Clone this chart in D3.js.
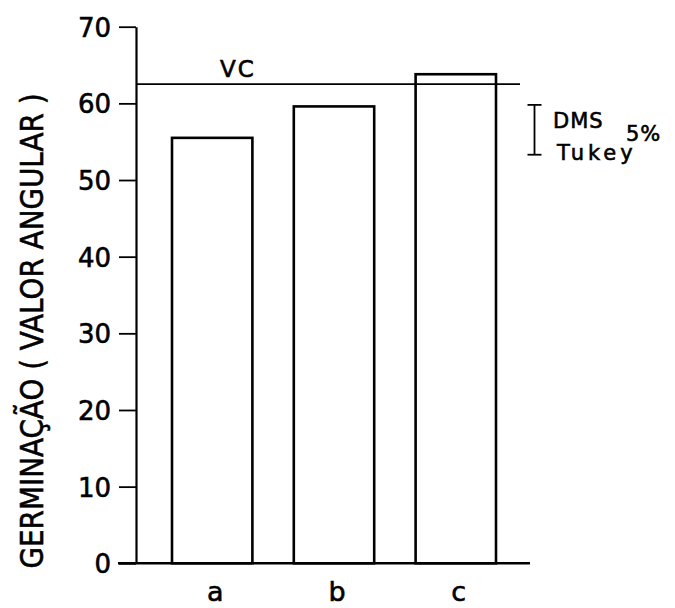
<!DOCTYPE html>
<html>
<head>
<meta charset="utf-8">
<script src="https://cdn.jsdelivr.net/npm/d3@7"></script>
<style>
  html, body { margin: 0; padding: 0; background: #fff; }
  svg { display: block; }
  text { font-family: "DejaVu Sans", sans-serif; fill: #000; stroke: #000; stroke-width: 0.6px; }
</style>
</head>
<body>
<svg id="chart" width="675" height="608"></svg>
<script>
const categories = ["a", "b", "c"];
const germinacao = [55.5, 59.6, 63.8];
const vcValue = 62.5;
const dmsRange = [53.3, 59.8];
const yTicks = [0, 10, 20, 30, 40, 50, 60, 70];
const yLabel = "GERMINAÇÃO ( VALOR ANGULAR )";

const svg = d3.select("#chart");
const W = 675, H = 608;
svg.append("rect").attr("width", W).attr("height", H).attr("fill", "#fff");

const axisX = 136;
const y = d3.scaleLinear().domain([0, 70]).range([563.3, 26.7]);
const x = d3.scaleBand().domain(categories).range([172, 496]).paddingInner(0.34).paddingOuter(0);

// Y axis
const yAxis = d3.axisLeft(y).tickValues(yTicks).tickSize(17).tickSizeOuter(0).tickPadding(8)
  .tickFormat(d3.format("d"));
const gy = svg.append("g").attr("transform", `translate(${axisX},0)`).call(yAxis);
gy.select(".domain").attr("stroke", "#000").attr("stroke-width", 2.2);
gy.selectAll(".tick line").attr("stroke", "#000").attr("stroke-width", 1.8);
gy.selectAll(".tick text").attr("font-size", 26).attr("font-family", "DejaVu Sans, sans-serif")
  .attr("fill", "#000").attr("stroke", "#000").attr("stroke-width", 0.7).attr("dy", "0.36em");

// Baseline
svg.append("line")
  .attr("x1", 118).attr("x2", 530)
  .attr("y1", y(0)).attr("y2", y(0))
  .attr("stroke", "#000").attr("stroke-width", 2.6);

// Bars
svg.selectAll("rect.bar").data(categories).join("rect")
  .attr("class", "bar")
  .attr("x", d => x(d))
  .attr("width", x.bandwidth())
  .attr("y", (d, i) => y(germinacao[i]))
  .attr("height", (d, i) => y(0) - y(germinacao[i]))
  .attr("fill", "none")
  .attr("stroke", "#000")
  .attr("stroke-width", 2.6);

// VC line
svg.append("line")
  .attr("x1", axisX).attr("x2", 520)
  .attr("y1", y(vcValue)).attr("y2", y(vcValue))
  .attr("stroke", "#000").attr("stroke-width", 1.8);
svg.append("text")
  .attr("x", 238).attr("y", y(vcValue) - 7)
  .attr("text-anchor", "middle")
  .attr("font-size", 23)
  .attr("letter-spacing", 2)
  .text("VC");

// Category labels
svg.selectAll("text.cat").data(categories).join("text")
  .attr("class", "cat")
  .attr("x", d => x(d) + x.bandwidth() / 2 + 3)
  .attr("y", 601)
  .attr("text-anchor", "middle")
  .attr("font-size", 27)
  .text(d => d);

// DMS Tukey bar
const dmsX = 534.5;
const g = svg.append("g").attr("stroke", "#000").attr("stroke-width", 1.8);
g.append("line").attr("x1", dmsX).attr("x2", dmsX).attr("y1", y(dmsRange[1])).attr("y2", y(dmsRange[0]));
g.append("line").attr("x1", dmsX - 7).attr("x2", dmsX + 7).attr("y1", y(dmsRange[1])).attr("y2", y(dmsRange[1]));
g.append("line").attr("x1", dmsX - 7).attr("x2", dmsX + 7).attr("y1", y(dmsRange[0])).attr("y2", y(dmsRange[0]));

svg.append("text").attr("x", 553).attr("y", 128).attr("font-size", 21).attr("letter-spacing", 1).text("DMS");
svg.append("text").attr("x", 626).attr("y", 141).attr("font-size", 21).attr("letter-spacing", 1).text("5%");
svg.append("text").attr("x", 557).attr("y", 160).attr("font-size", 21).attr("letter-spacing", 4).text("Tukey");

// Y label
svg.append("text")
  .attr("transform", "translate(43,331) rotate(-90)")
  .attr("text-anchor", "middle")
  .attr("font-size", 32)
  .attr("textLength", 475)
  .attr("lengthAdjust", "spacingAndGlyphs")
  .text(yLabel);
</script>
</body>
</html>
